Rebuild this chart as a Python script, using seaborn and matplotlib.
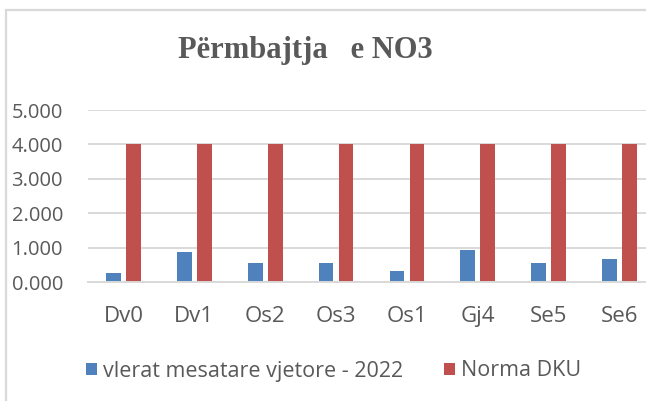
import matplotlib
matplotlib.use("Agg")
import matplotlib.pyplot as plt
from matplotlib.patches import Rectangle
import seaborn as sns
import pandas as pd

# Monitoring stations and NO3 values
stations = ["Dv0", "Dv1", "Os2", "Os3", "Os1", "Gj4", "Se5", "Se6"]
mesatare_2022 = [0.26, 0.86, 0.55, 0.55, 0.32, 0.92, 0.55, 0.67]
norma_dku = [4.0, 4.0, 4.0, 4.0, 4.0, 4.0, 4.0, 4.0]
series_names = ["vlerat mesatare vjetore - 2022", "Norma DKU"]
y_ticks = [0, 1, 2, 3, 4, 5]
y_tick_labels = ["0.000", "1.000", "2.000", "3.000", "4.000", "5.000"]
title = "Përmbajtja   e NO3"

df = pd.DataFrame({
    "stacion": stations * 2,
    "vlera": mesatare_2022 + norma_dku,
    "seria": [series_names[0]] * len(stations) + [series_names[1]] * len(stations),
})

sns.set_theme(style="white")
plt.rcParams["font.family"] = ["Open Sans", "DejaVu Sans"]

W, H = 646, 401
fig = plt.figure(figsize=(W / 100, H / 100), dpi=100)
ax = fig.add_axes([88 / W, 1 - 282 / H, (655 - 88) / W, (282 - 110) / H])

palette = {series_names[0]: "#4F81BD", series_names[1]: "#C0504D"}
sns.barplot(data=df, x="stacion", y="vlera", hue="seria", palette=palette,
            width=0.565, gap=0.26, ax=ax, saturation=1, errorbar=None,
            edgecolor="none", linewidth=0)

ax.set_ylim(0, 5)
ax.set_xlim(-0.5, len(stations) - 0.5)
ax.set_yticks(y_ticks)
ax.set_yticklabels(y_tick_labels)
ax.set_xlabel("")
ax.set_ylabel("")
grid_col = "#D9D9D9"
ax.yaxis.grid(True, color=grid_col, linewidth=1.4)
ax.set_axisbelow(True)
for s in ["top", "right", "left"]:
    ax.spines[s].set_visible(False)
ax.spines["bottom"].set_color(grid_col)
ax.spines["bottom"].set_linewidth(1.4)
text_col = "#595959"
ax.tick_params(axis="y", length=0, pad=18, labelsize=14.5, labelcolor=text_col)
ax.tick_params(axis="x", length=0, pad=17, labelsize=16, labelcolor=text_col)
for lab in ax.get_yticklabels():
    lab.set_horizontalalignment("right")

handles, labels = ax.get_legend_handles_labels()
if ax.get_legend() is not None:
    ax.get_legend().remove()
fig.legend(handles, labels, loc="center left",
           bbox_to_anchor=(86 / W, 1 - 371 / H), ncol=2, frameon=False,
           prop={"size": 15.5}, labelcolor=text_col, handlelength=0.5,
           handleheight=0.5, handletextpad=0.3, columnspacing=1.9,
           borderpad=0, borderaxespad=0)

fig.text(305 / W, 1 - 58 / H, title, ha="center", va="baseline",
         fontsize=22, fontweight="bold", color=text_col,
         family=["Liberation Serif", "DejaVu Serif"])

# chart area outline
fig.patches.append(Rectangle((6 / W, -0.1), 1.2, 1.1 - 10 / H,
                             transform=fig.transFigure, fill=False,
                             edgecolor=grid_col, linewidth=1.6))

fig.savefig("out.png", dpi=100)
